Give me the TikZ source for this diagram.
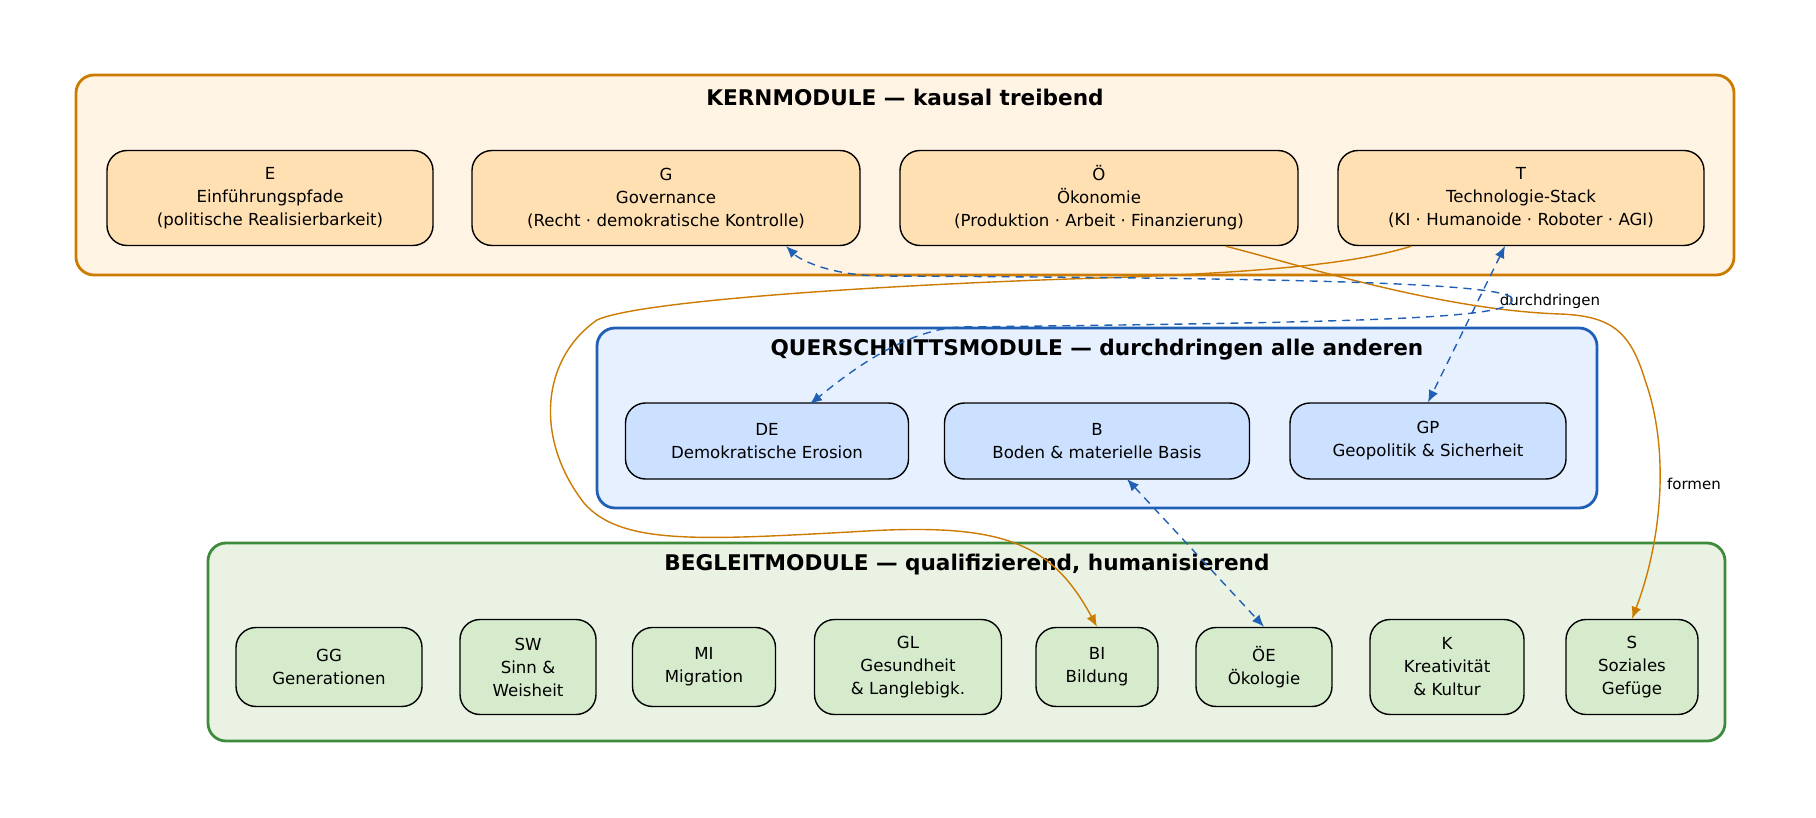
\documentclass[tikz,border=0pt]{standalone}
\usepackage{fontspec}
\setmainfont{DejaVu Sans}
\usetikzlibrary{arrows.meta}
\definecolor{kor}{HTML}{CC7A00}
\definecolor{kfill}{HTML}{FFF3E4}
\definecolor{knode}{HTML}{FFE0B2}
\definecolor{qbl}{HTML}{1F5FB4}
\definecolor{qfill}{HTML}{E6F0FF}
\definecolor{qnode}{HTML}{CCE0FF}
\definecolor{bgr}{HTML}{3D8C3D}
\definecolor{bfill}{HTML}{EAF3E3}
\definecolor{bnode}{HTML}{D5EBCC}
\begin{document}
\begin{tikzpicture}[x=0.5pt,y=-0.5pt,
 mod/.style={draw=black,line width=0.7pt,rounded corners=10pt,align=center,font=\fontsize{8.3}{11.5}\selectfont,inner sep=0pt},
 kn/.style={mod,fill=knode,minimum height=47.5pt},
 qn/.style={mod,fill=qnode,minimum height=38pt},
 bn/.style={mod,fill=bnode},
 cl/.style={line width=1.4pt,rounded corners=9pt},
 ttl/.style={font=\fontsize{10.8}{13}\selectfont\bfseries},
 oe/.style={draw=kor,line width=0.7pt,-{Latex[length=6pt,width=5pt]}},
 be/.style={draw=qbl,line width=0.7pt,dash pattern=on 4pt off 3pt,-{Latex[length=6pt,width=5pt]}},
 lab/.style={font=\fontsize{7.5}{9}\selectfont}]
\useasboundingbox (0,0) rectangle (1816,818);
% clusters
\draw[cl,draw=kor,fill=kfill] (76,75) rectangle (1734,275);
\node[ttl] (tk) at (905,97) {KERNMODULE — kausal treibend};
\draw[cl,draw=qbl,fill=qfill] (597,328) rectangle (1597,508);
\node[ttl] (tq) at (1097,350) {QUERSCHNITTSMODULE — durchdringen alle anderen};
\draw[cl,draw=bgr,fill=bfill] (208,543) rectangle (1725,741);
\node[ttl] (tb) at (967,565) {BEGLEITMODULE — qualifizierend, humanisierend};
% Kern
\node[kn,minimum width=163pt] (E) at (270,198) {E\\Einführungspfade\\(politische Realisierbarkeit)};
\node[kn,minimum width=194pt] (G) at (666,198) {G\\Governance\\(Recht · demokratische Kontrolle)};
\node[kn,minimum width=199pt] (O) at (1099,198) {Ö\\Ökonomie\\(Produktion · Arbeit · Finanzierung)};
\node[kn,minimum width=183pt] (T) at (1521,198) {T\\Technologie-Stack\\(KI · Humanoide · Roboter · AGI)};
% Quer
\node[qn,minimum width=141.5pt] (DE) at (767,441) {DE\\Demokratische Erosion};
\node[qn,minimum width=152.5pt] (B) at (1097,441) {B\\Boden \& materielle Basis};
\node[qn,minimum width=138pt] (GP) at (1428,441) {GP\\Geopolitik \& Sicherheit};
% Begleit
\node[bn,minimum width=93pt,minimum height=39.5pt] (GG) at (329,667) {GG\\Generationen};
\node[bn,minimum width=68pt,minimum height=47.5pt] (SW) at (528,667) {SW\\Sinn \&\\Weisheit};
\node[bn,minimum width=71.5pt,minimum height=39.5pt] (MI) at (704,667) {MI\\Migration};
\node[bn,minimum width=93.5pt,minimum height=47.5pt] (GL) at (908,667) {GL\\Gesundheit\\\& Langlebigk.};
\node[bn,minimum width=61pt,minimum height=39.5pt] (BI) at (1097,667) {BI\\Bildung};
\node[bn,minimum width=68pt,minimum height=39.5pt] (OE) at (1264,667) {ÖE\\Ökologie};
\node[bn,minimum width=77pt,minimum height=47.5pt] (K) at (1447,667) {K\\Kreativität\\\& Kultur};
\node[bn,minimum width=66pt,minimum height=47.5pt] (S) at (1632,667) {S\\Soziales\\Gefüge};
% orange edges
\draw[oe] (T.south west) ++(74,0) .. controls (1360,262) and (1280,272) .. (1100,278)
  .. controls (900,284) and (640,300) .. (597,320)
  .. controls (540,360) and (535,440) .. (584,503)
  .. controls (620,545) and (700,540) .. (850,532)
  .. controls (1000,522) and (1050,540) .. (BI.north);
\draw[oe] (O.south east) ++(-73,0) .. controls (1300,265) and (1440,310) .. (1560,314)
  .. controls (1610,316) and (1630,330) .. (1645,380)
  .. controls (1670,450) and (1662,540) .. (S.north) node[lab,pos=0.45,right] (lf) {formen};
% blue edges
\coordinate (hub) at (1512,298);
\node[lab] (ld) at (1550,301) {durchdringen};
\draw[be] (hub) .. controls (1500,283) and (1300,278) .. (880,276) .. controls (830,275) and (800,260) .. (786,246);
\draw[be] (hub) .. controls (1520,318) and (1400,322) .. (960,327) .. controls (900,330) and (840,380) .. (810,404);
\draw[be,{Latex[length=6pt,width=5pt]}-{Latex[length=6pt,width=5pt]}] (1505,246) -- (GP.north);
\draw[be,{Latex[length=6pt,width=5pt]}-{Latex[length=6pt,width=5pt]}] (1127,479) -- (OE.north);
\end{tikzpicture}
\end{document}
